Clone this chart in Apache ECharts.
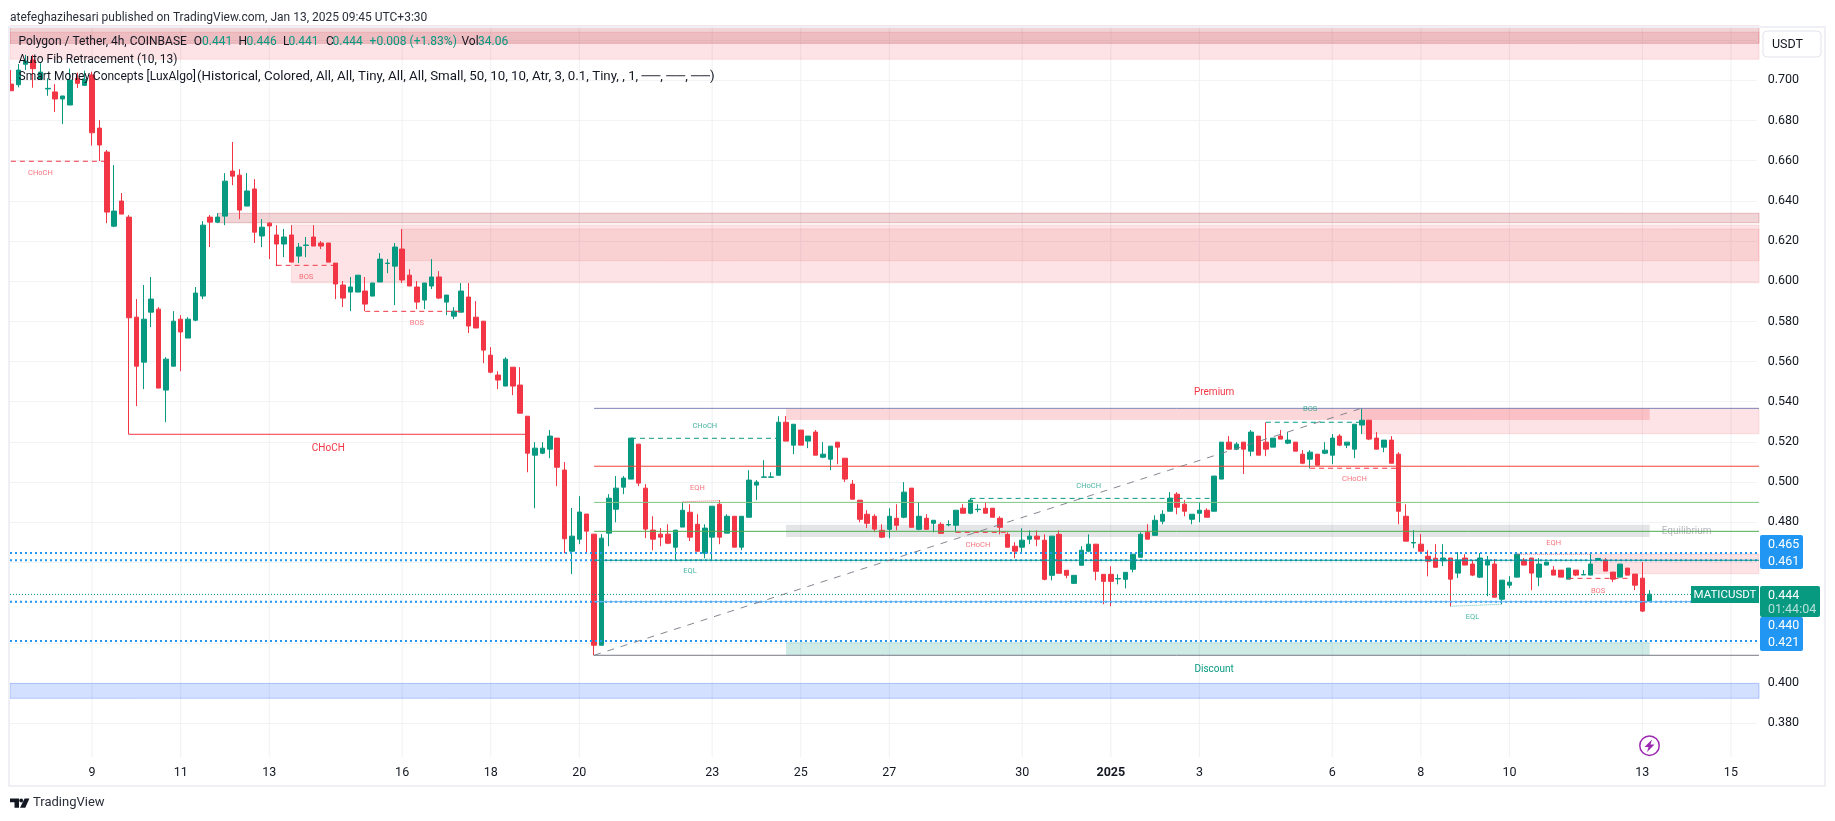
<!DOCTYPE html>
<html>
<head>
<meta charset="utf-8">
<title>MATICUSDT 4h</title>
<script src="https://cdn.jsdelivr.net/npm/echarts@6/dist/echarts.min.js"></script>
<style>
  html, body { margin: 0; padding: 0; background: #fff; }
  #main { width: 1835px; height: 821px; }
</style>
</head>
<body>
<div id="main"></div>
<script>
// 4h candles: [open, close, low, high]
const candles = [
  [.6981,.6948,.6948,.7051],[.6978,.7051,.6965,.7081],[.7080,.7096,.7051,.7126],[.7101,.7058,.6963,.7126],
  [.7005,.7041,.7001,.7085],[.6957,.6960,.6923,.7010],[.6942,.6907,.6842,.6981],[.6907,.6922,.6782,.6922],
  [.6877,.7001,.6877,.7058],[.7010,.6985,.6962,.7038],[.6975,.7005,.6975,.7048],[.7027,.6739,.6675,.7043],
  [.6762,.6678,.6598,.6802],[.6643,.6344,.6289,.6653],[.6274,.6349,.6269,.6578],[.6399,.6334,.6334,.6439],
  [.6319,.5818,.5237,.6329],[.5821,.5577,.5378,.5911],[.5597,.5811,.5463,.5981],[.5846,.5911,.5772,.6021],
  [.5861,.5468,.5468,.5871],[.5458,.5612,.5298,.5622],[.5577,.5801,.5577,.5851],[.5811,.5747,.5552,.5831],
  [.5717,.5811,.5717,.5821],[.5806,.5941,.5801,.5971],[.5926,.6279,.5911,.6299],[.6319,.6294,.6170,.6329],
  [.6294,.6319,.6289,.6339],[.6324,.6498,.6279,.6538],[.6548,.6523,.6478,.6693],[.6528,.6354,.6309,.6558],
  [.6374,.6449,.6374,.6538],[.6459,.6244,.6190,.6508],[.6225,.6269,.6170,.6309],[.6289,.6275,.6110,.6294],
  [.6230,.6185,.6075,.6279],[.6185,.6220,.6120,.6260],[.6230,.6095,.6095,.6279],[.6125,.6170,.6090,.6190],
  [.6178,.6180,.6120,.6220],[.6220,.6175,.6175,.6279],[.6190,.6175,.6160,.6200],[.6190,.6095,.6095,.6190],
  [.6090,.5986,.5911,.6090],[.5981,.5916,.5871,.6001],[.5946,.5971,.5851,.6021],[.5946,.6030,.5946,.6030],
  [.5951,.5886,.5851,.6021],[.5926,.5991,.5926,.5991],[.5996,.6110,.5996,.6140],[.6088,.6090,.6040,.6110],
  [.6075,.6170,.5881,.6190],[.6160,.6006,.5991,.6260],[.6030,.5976,.5976,.6060],[.5971,.5896,.5861,.6001],
  [.5906,.5991,.5861,.5991],[.5976,.6021,.5961,.6110],[.6021,.5916,.5911,.6050],[.5896,.5931,.5831,.5931],
  [.5826,.5851,.5811,.5871],[.5846,.5951,.5846,.5991],[.5921,.5777,.5742,.5991],[.5821,.5767,.5767,.5901],
  [.5801,.5657,.5592,.5801],[.5632,.5547,.5542,.5672],[.5533,.5508,.5463,.5552],[.5478,.5612,.5478,.5622],
  [.5572,.5478,.5433,.5572],[.5483,.5343,.5343,.5572],[.5328,.5144,.5049,.5328],[.5134,.5169,.4870,.5199],
  [.5144,.5169,.5139,.5199],[.5164,.5229,.5119,.5259],[.5219,.5074,.4980,.5219],[.5060,.4718,.4646,.5100],
  [.4656,.4731,.4542,.4871],[.4716,.4851,.4691,.4930],[.4841,.4756,.4646,.4841],[.4741,.4188,.4138,.4741],
  [.4188,.4721,.4188,.4741],[.4746,.4920,.4681,.4940],[.4865,.4970,.4800,.5030],[.4975,.5020,.4940,.5030],
  [.5015,.5219,.5015,.5219],[.5189,.4995,.4980,.5189],[.4970,.4766,.4721,.4990],[.4761,.4716,.4661,.4830],
  [.4741,.4726,.4681,.4771],[.4741,.4696,.4691,.4790],[.4676,.4761,.4611,.4761],[.4776,.4860,.4776,.4900],
  [.4850,.4726,.4706,.4890],[.4790,.4656,.4656,.4840],[.4646,.4771,.4621,.4790],[.4726,.4880,.4611,.4880],
  [.4890,.4726,.4691,.4910],[.4746,.4830,.4746,.4840],[.4830,.4676,.4676,.4830],[.4676,.4830,.4661,.4830],
  [.4825,.5010,.4825,.5059],[.4985,.5000,.4910,.5010],[.5024,.5026,.5022,.5109],[.5024,.5026,.5022,.5049],
  [.5034,.5298,.5034,.5328],[.5298,.5204,.5204,.5329],[.5184,.5288,.5139,.5288],[.5259,.5184,.5184,.5259],
  [.5204,.5229,.5169,.5229],[.5249,.5134,.5134,.5259],[.5124,.5139,.5119,.5199],[.5114,.5179,.5059,.5179],
  [.5199,.5174,.5089,.5199],[.5119,.5015,.5000,.5119],[.4990,.4915,.4915,.5010],[.4910,.4815,.4800,.4910],
  [.4840,.4795,.4771,.4860],[.4830,.4766,.4751,.4840],[.4760,.4726,.4721,.4790],[.4765,.4830,.4721,.4870],
  [.4820,.4785,.4760,.4890],[.4825,.4950,.4820,.5000],[.4970,.4775,.4775,.4970],[.4765,.4830,.4760,.4900],
  [.4820,.4765,.4765,.4840],[.4795,.4810,.4750,.4810],[.4790,.4745,.4745,.4800],[.4787,.4789,.4780,.4810],
  [.4785,.4860,.4750,.4860],[.4870,.4845,.4845,.4890],[.4845,.4910,.4840,.4920],[.4863,.4865,.4850,.4890],
  [.4870,.4845,.4845,.4900],[.4870,.4825,.4825,.4870],[.4820,.4775,.4740,.4830],[.4740,.4676,.4676,.4750],
  [.4681,.4656,.4621,.4701],[.4676,.4711,.4651,.4770],[.4716,.4731,.4691,.4760],[.4731,.4716,.4681,.4760],
  [.4711,.4516,.4511,.4740],[.4536,.4731,.4511,.4731],[.4740,.4546,.4546,.4760],[.4561,.4536,.4521,.4561],
  [.4496,.4536,.4496,.4536],[.4586,.4661,.4586,.4681],[.4656,.4691,.4651,.4740],[.4691,.4556,.4511,.4691],
  [.4541,.4506,.4392,.4541],[.4541,.4506,.4382,.4581],[.4518,.4520,.4491,.4541],[.4516,.4551,.4471,.4551],
  [.4566,.4641,.4551,.4641],[.4626,.4740,.4626,.4750],[.4750,.4716,.4716,.4790],[.4735,.4810,.4735,.4835],
  [.4805,.4840,.4790,.4860],[.4855,.4920,.4855,.4950],[.4940,.4875,.4840,.4950],[.4890,.4855,.4830,.4910],
  [.4815,.4840,.4790,.4840],[.4845,.4860,.4800,.4900],[.4860,.4825,.4825,.4870],[.4855,.5030,.4855,.5030],
  [.5015,.5199,.5015,.5199],[.5199,.5164,.5164,.5229],[.5164,.5189,.5159,.5199],[.5199,.5164,.5040,.5199],
  [.5154,.5249,.5129,.5259],[.5229,.5134,.5134,.5229],[.5199,.5164,.5129,.5297],[.5174,.5219,.5174,.5219],
  [.5229,.5214,.5214,.5259],[.5194,.5209,.5189,.5249],[.5199,.5154,.5154,.5199],[.5139,.5094,.5089,.5159],
  [.5114,.5149,.5068,.5159],[.5139,.5084,.5084,.5139],[.5144,.5159,.5139,.5199],[.5134,.5219,.5089,.5239],
  [.5229,.5184,.5179,.5239],[.5184,.5199,.5169,.5199],[.5164,.5288,.5119,.5288],[.5284,.5308,.5239,.5368],
  [.5308,.5214,.5209,.5308],[.5219,.5164,.5164,.5249],[.5174,.5209,.5149,.5209],[.5209,.5094,.5094,.5229],
  [.5139,.4855,.4790,.5149],[.4830,.4706,.4706,.4890],[.4697,.4699,.4671,.4761],[.4691,.4656,.4646,.4741],
  [.4631,.4606,.4531,.4661],[.4621,.4576,.4576,.4691],[.4608,.4622,.4582,.4691],[.4622,.4517,.4382,.4622],
  [.4547,.4612,.4522,.4651],[.4622,.4587,.4587,.4641],[.4592,.4537,.4532,.4612],[.4527,.4622,.4522,.4647],
  [.4587,.4612,.4432,.4632],[.4592,.4427,.4427,.4617],[.4417,.4512,.4392,.4512],[.4487,.4502,.4472,.4532],
  [.4527,.4641,.4527,.4641],[.4612,.4587,.4587,.4622],[.4622,.4547,.4462,.4622],[.4527,.4592,.4482,.4622],
  [.4587,.4602,.4587,.4602],[.4562,.4537,.4537,.4582],[.4562,.4527,.4527,.4562],[.4517,.4572,.4517,.4572],
  [.4562,.4537,.4532,.4562],[.4538,.4540,.4538,.4562],[.4537,.4592,.4537,.4641],[.4612,.4620,.4612,.4620],
  [.4612,.4557,.4557,.4622],[.4552,.4517,.4502,.4552],[.4527,.4592,.4527,.4592],[.4572,.4537,.4537,.4572],
  [.4542,.4487,.4462,.4542],[.4522,.4358,.4353,.4602],[.4407,.4442,.4402,.4462],
];

// time axis: bar index of each day tick, and its label
const tickIndex = [11, 23, 35, 53, 65, 77, 95, 107, 119, 137, 149, 161, 179, 191, 203, 221, 233];
const tickLabels = ['9', '11', '13', '16', '18', '20', '23', '25', '27', '30', '2025', '3', '6', '8', '10', '13', '15'];
const barCount = 237;

// price axis
const priceGrid = [0.38, 0.40, 0.42, 0.44, 0.46, 0.48, 0.50, 0.52, 0.54, 0.56, 0.58, 0.60, 0.62, 0.64, 0.66, 0.68, 0.70, 0.72];
const priceLabels = [0.38, 0.40, 0.48, 0.50, 0.52, 0.54, 0.56, 0.58, 0.60, 0.62, 0.64, 0.66, 0.68, 0.70];

// boxes: [from bar, to bar, top price, bottom price] (-1 = left edge, 999 = right edge)
const lightRedBoxes = [[-1, 999, 0.7240, 0.7105], [38, 999, 0.6280, 0.5992], [183, 999, 0.5367, 0.5241], [214, 999, 0.4642, 0.4544]];
const innerRedBoxes = [[53, 999, 0.6260, 0.6102]];
const premiumBoxes = [[105, 222, 0.5367, 0.5309]];
const greyRedBoxes = [[-1, 999, 0.7270, 0.7184], [28, 999, 0.6338, 0.6291]];
const equilibriumBox = [[105, 222, 0.4788, 0.4727]];
const discountBox = [[105, 222, 0.4204, 0.4138]];
const blueBox = [[-1, 999, 0.3998, 0.3924]];

// fib levels: [from bar, price]
const fibTop = [79, 0.5367];
const fibRed = [79, 0.5079];
const fibLightGreen = [79, 0.4899];
const fibGreen = [79, 0.4755];
const fibTeal = [79, 0.4611];
const fibBlue = [79, 0.4405];
const fibBottom = [79, 0.4138];

const dottedLevels = [0.4647, 0.4611, 0.4405, 0.4209];
const lastPrice = 0.4441;

// structure breaks: [from bar, to bar, price]
const redBreaks = [[0, 13, 0.6597], [36, 44, 0.6079], [48, 61, 0.5850], [128, 135, 0.4750], [176, 188, 0.5069], [211, 219, 0.4521]];
const greenBreaks = [[84, 104, 0.5218], [130, 163, 0.4919], [170, 183, 0.5298]];
const solidBreak = [16, 70, 0.5238];
// equal highs / lows: [from bar, to bar, price, price]
const eqHighs = [[91, 96, 0.4902, 0.4908], [204, 214, 0.4641, 0.4641]];
const eqLows = [[90, 95, 0.4611, 0.4617], [195, 202, 0.4382, 0.4392]];
// fib anchor line: [bar, price, bar, price]
const fibAnchor = [79, 0.4138, 183, 0.5368];

// chart labels: [bar, price, text]
const tinyRedLabels = [[4, 0.6540, 'CHoCH'], [40, 0.6021, 'BOS'], [55, 0.5791, 'BOS'], [93, 0.4971, 'EQH'], [131, 0.4687, 'CHoCH'],
  [182, 0.5013, 'CHoCH'], [209, 0.4697, 'EQH'], [215, 0.4458, 'BOS']];
const tinyGreenLabels = [[94, 0.5280, 'CHoCH'], [92, 0.4558, 'EQL'], [146, 0.4981, 'CHoCH'], [176, 0.5363, 'BOS'], [198, 0.4329, 'EQL']];
const bigLabels = [[43, 0.5169, 'CHoCH', 'red'], [163, 0.5444, 'Premium', 'red'], [163, 0.4066, 'Discount', 'green'], [227, 0.4752, 'Equilibrium', 'grey']];

const categories = Array.from({ length: barCount }, (_, i) => String(i));

const UP = '#089981';
const DOWN = '#f23645';
const BLUE = '#2196f3';
const INK = '#131722';
const FONT = 'Roboto, sans-serif';
const LEFT_EDGE = 10;
const RIGHT_EDGE = 1759;

function xOf(api, bar) {
  if (bar < 0) return LEFT_EDGE;
  if (bar > barCount) return RIGHT_EDGE;
  return api.coord([bar, 0])[0];
}

function boxShapes(api, rows, fill, stroke) {
  return rows.map((r) => {
    const x1 = xOf(api, r[0]);
    const x2 = xOf(api, r[1]);
    const y1 = api.coord([0, r[2]])[1];
    const y2 = api.coord([0, r[3]])[1];
    return {
      type: 'rect',
      shape: { x: x1, y: y1, width: x2 - x1, height: y2 - y1 },
      style: { fill: fill, stroke: stroke, lineWidth: stroke ? 1 : 0 },
    };
  });
}

function lineShape(api, bar1, p1, bar2, p2, color, width, dash) {
  return {
    type: 'line',
    shape: { x1: xOf(api, bar1), y1: api.coord([0, p1])[1], x2: xOf(api, bar2), y2: api.coord([0, p2])[1] },
    style: { stroke: color, lineWidth: width, lineDash: dash || null },
  };
}

function labelShape(api, row, color, size) {
  return {
    type: 'text',
    x: xOf(api, row[0]),
    y: api.coord([0, row[1]])[1],
    style: { text: row[2], fill: color, font: size + 'px ' + FONT, align: 'center', verticalAlign: 'middle' },
  };
}

function renderZones(params, api) {
  let children = [];
  // day grid lines
  tickIndex.forEach((t) => {
    const x = xOf(api, t);
    children.push({ type: 'line', shape: { x1: x, y1: 27, x2: x, y2: 757 }, style: { stroke: '#f0f1f4', lineWidth: 1 } });
  });
  children = children.concat(
    boxShapes(api, lightRedBoxes, 'rgba(242,54,69,0.14)', 'rgba(242,54,69,0.12)'),
    boxShapes(api, innerRedBoxes, 'rgba(232,60,70,0.11)', 'rgba(242,54,69,0.12)'),
    boxShapes(api, premiumBoxes, 'rgba(242,54,69,0.2)', null),
    boxShapes(api, greyRedBoxes, 'rgba(178,40,51,0.2)', 'rgba(178,40,51,0.25)'),
    boxShapes(api, equilibriumBox, 'rgba(120,123,134,0.2)', null),
    boxShapes(api, discountBox, 'rgba(8,153,129,0.2)', null),
    boxShapes(api, blueBox, 'rgba(41,98,255,0.2)', 'rgba(41,98,255,0.3)')
  );
  return { type: 'group', children: children };
}

function renderLines(params, api) {
  const c = [];
  dottedLevels.forEach((p) => c.push(lineShape(api, -1, p, 999, p, BLUE, 2, [2, 3])));
  c.push(lineShape(api, -1, lastPrice, 999, lastPrice, UP, 1, [1, 2]));
  c.push(lineShape(api, fibTop[0], fibTop[1], 999, fibTop[1], '#7f87b8', 1));
  c.push(lineShape(api, fibRed[0], fibRed[1], 999, fibRed[1], '#f44336', 1));
  c.push(lineShape(api, fibLightGreen[0], fibLightGreen[1], 999, fibLightGreen[1], '#81c784', 1));
  c.push(lineShape(api, fibGreen[0], fibGreen[1], 999, fibGreen[1], '#4caf50', 1));
  c.push(lineShape(api, fibTeal[0], fibTeal[1], 999, fibTeal[1], '#009688', 1));
  c.push(lineShape(api, fibBlue[0], fibBlue[1], 999, fibBlue[1], '#64b5f6', 1));
  c.push(lineShape(api, fibBottom[0], fibBottom[1], 999, fibBottom[1], '#787b86', 1));
  c.push(lineShape(api, fibAnchor[0], fibAnchor[1], fibAnchor[2], fibAnchor[3], 'rgba(120,123,134,0.9)', 1, [7, 7]));
  c.push(lineShape(api, solidBreak[0], solidBreak[2], solidBreak[1], solidBreak[2], DOWN, 1));
  redBreaks.forEach((r) => c.push(lineShape(api, r[0], r[2], r[1], r[2], DOWN, 1, [5, 4])));
  greenBreaks.forEach((r) => c.push(lineShape(api, r[0], r[2], r[1], r[2], UP, 1, [5, 4])));
  eqHighs.forEach((r) => c.push(lineShape(api, r[0], r[2], r[1], r[3], 'rgba(242,54,69,0.7)', 1, [1, 1])));
  eqLows.forEach((r) => c.push(lineShape(api, r[0], r[2], r[1], r[3], 'rgba(8,153,129,0.6)', 1, [1, 1])));
  tinyRedLabels.forEach((r) => c.push(labelShape(api, r, 'rgba(242,54,69,0.7)', 7.5)));
  tinyGreenLabels.forEach((r) => c.push(labelShape(api, r, 'rgba(8,153,129,0.75)', 7.5)));
  const bigColors = { red: DOWN, green: UP, grey: 'rgba(120,123,134,0.55)' };
  bigLabels.forEach((r) => c.push(labelShape(api, r, bigColors[r[3]], 10)));
  return { type: 'group', children: c };
}

function tag(x, y, w, h, fill, r) {
  return { type: 'rect', z: 110, shape: { x: x, y: y, width: w, height: h, r: r || 0 }, style: { fill: fill } };
}

function txt(x, y, text, fill, size, extra) {
  return {
    type: 'text', z: 120, x: x, y: y + 1,
    style: Object.assign({ text: text, fill: fill, font: size + 'px ' + FONT, verticalAlign: 'middle' }, extra || {}),
  };
}

const chart = echarts.init(document.getElementById('main'), null, { renderer: 'canvas' });
chart.setOption({
  animation: false,
  backgroundColor: '#fff',
  grid: { left: 7.2, width: 7.382 * barCount, top: 27, height: 730 },
  xAxis: {
    type: 'category',
    data: categories,
    boundaryGap: true,
    axisLine: { show: false },
    axisTick: { show: false },
    splitLine: { show: false },
    axisLabel: {
      interval: (idx) => tickIndex.includes(idx),
      formatter: (v) => {
        const label = tickLabels[tickIndex.indexOf(Number(v))];
        return label === '2025' ? '{b|2025}' : label;
      },
      color: INK,
      fontSize: 12.5,
      fontFamily: 'Roboto',
      margin: 9,
      rich: { b: { fontWeight: 'bold', fontSize: 12.5, fontFamily: 'Roboto', color: INK } },
    },
  },
  yAxis: {
    type: 'value',
    position: 'right',
    scale: true,
    min: 0.36317,
    max: 0.72653,
    axisLine: { show: false },
    axisTick: { show: false, customValues: priceGrid },
    splitLine: { show: true, lineStyle: { color: '#f2f3f5', width: 1 } },
    axisLabel: {
      customValues: priceLabels,
      formatter: (v) => v.toFixed(3),
      color: INK,
      fontSize: 12.5,
      fontFamily: 'Roboto',
      margin: 11,
      padding: [3, 0, 0, 0],
    },
  },
  series: [
    { type: 'custom', name: 'zones', z: 1, silent: true, data: [[0, 0.5]], renderItem: renderZones },
    {
      type: 'candlestick',
      name: 'MATICUSDT',
      z: 3,
      barWidth: 5,
      data: candles,
      itemStyle: { color: UP, color0: DOWN, borderColor: UP, borderColor0: DOWN, borderWidth: 1 },
    },
    { type: 'custom', name: 'lines', z: 4, silent: true, data: [[0, 0.5]], renderItem: renderLines },
  ],
  graphic: {
    elements: [
      // mask and frame
      { type: 'rect', z: 100, shape: { x: 0, y: 0, width: 9, height: 821 }, style: { fill: '#fff' } },
      { type: 'rect', z: 105, shape: { x: 9, y: 27, width: 1816, height: 759 }, style: { fill: 'none', stroke: '#eff0f5', lineWidth: 2 } },
      // header and legend
      txt(10, 17, 'atefeghazihesari published on TradingView.com, Jan 13, 2025 09:45 UTC+3:30', '#2a2e39', 12),
      txt(18.5, 41, 'Polygon / Tether, 4h, COINBASE', INK, 12),
      txt(193.7, 41, 'O', INK, 12),
      txt(202, 41, '0.441', UP, 12),
      txt(238.6, 41, 'H', INK, 12),
      txt(246.5, 41, '0.446', UP, 12),
      txt(283, 41, 'L', INK, 12),
      txt(288.4, 41, '0.441', UP, 12),
      txt(326, 41, 'C', INK, 12),
      txt(332.5, 41, '0.444', UP, 12),
      txt(369.6, 41, '+0.008 (+1.83%)', UP, 12),
      txt(461.5, 41, 'Vol', INK, 12),
      txt(478, 41, '34.06', UP, 12),
      txt(18.5, 59, 'Auto Fib Retracement (10, 13)', INK, 12),
      txt(18.5, 76, 'Smart Money Concepts [LuxAlgo]', INK, 12),
      txt(197, 76, '(Historical, Colored, All, All, Tiny, All, All, Small, 50, 10, 10, Atr, 3, 0.1, Tiny, , 1, \u2500\u2500, \u2500\u2500, \u2500\u2500)', INK, 13.3),
      // USDT button
      { type: 'rect', z: 110, shape: { x: 1763, y: 31, width: 58, height: 26, r: 4 }, style: { fill: '#fff', stroke: '#e0e3eb', lineWidth: 1 } },
      txt(1772, 44, 'USDT', INK, 12.5),
      // price tags
      tag(1760, 535, 43, 34, BLUE, 2),
      txt(1768, 544, '0.465', '#fff', 12.5),
      txt(1768, 561, '0.461', '#fff', 12.5),
      tag(1760, 617, 43, 34, BLUE, 2),
      txt(1768, 625, '0.440', '#fff', 12.5),
      txt(1768, 642, '0.421', '#fff', 12.5),
      tag(1760, 586, 60, 31, UP, 2),
      txt(1768, 595, '0.444', '#fff', 12.5),
      txt(1768, 609, '01:44:04', 'rgba(255,255,255,0.7)', 12.5),
      tag(1691, 586, 68, 17, UP, 0),
      txt(1725, 594, 'MATICUSDT', '#fff', 11.5, { align: 'center' }),
      // bolt icon
      { type: 'circle', z: 110, shape: { cx: 1649.5, cy: 745.7, r: 9.7 }, style: { fill: '#fff', stroke: '#9c27b0', lineWidth: 1.5 } },
      { type: 'polygon', z: 111, shape: { points: [[1652, 739.5], [1644.5, 747], [1648.5, 747], [1647, 752], [1654.5, 744.5], [1650.5, 744.5]] }, style: { fill: '#9c27b0' } },
      // TradingView mark
      { type: 'polygon', z: 110, shape: { points: [[10, 798.5], [19, 798.5], [19, 807.7], [14.5, 807.7], [14.5, 802.3], [10, 802.3]] }, style: { fill: INK } },
      { type: 'circle', z: 110, shape: { cx: 21.2, cy: 800.5, r: 1.9 }, style: { fill: INK } },
      { type: 'polygon', z: 110, shape: { points: [[24.6, 798.5], [29.4, 798.5], [25.3, 807.7], [20, 807.7]] }, style: { fill: INK } },
      txt(33, 802, 'TradingView', '#2a2e39', 13),
    ],
  },
});
</script>
</body>
</html>
